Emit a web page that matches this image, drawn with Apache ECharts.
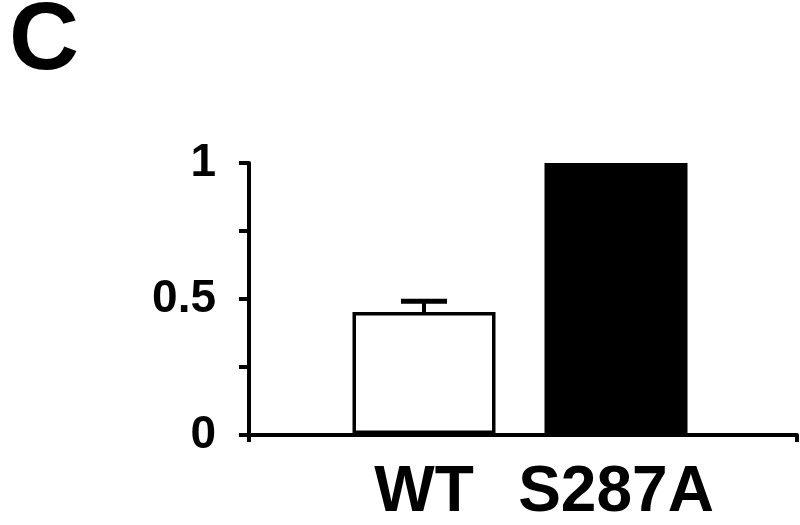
<!DOCTYPE html>
<html>
<head>
<meta charset="utf-8">
<script src="https://cdn.jsdelivr.net/npm/echarts@6/dist/echarts.min.js"></script>
<style>
  html, body { margin: 0; padding: 0; background: #fff; }
  #chart { width: 800px; height: 525px; }
</style>
</head>
<body>
<div id="chart"></div>
<script>
// data
var categories = ['WT', 'S287A'];
var values = [0.45, 1.0];
var errors = [0.04, 0];
var barColors = ['#ffffff', '#000000'];
var yTickLabels = { 0: '0', 0.5: '0.5', 1: '1' };

var font = 'Liberation Sans, Arial, Helvetica, sans-serif';

var option = {
  animation: false,
  backgroundColor: '#fff',
  title: {
    text: 'C',
    left: 4,
    top: -11,
    textStyle: { fontFamily: font, fontWeight: 'bold', fontSize: 97, color: '#000' }
  },
  grid: [
    // full axes frame
    { left: 249, right: 3, top: 163, bottom: 90 },
    // bars
    { left: 328, right: 88, top: 163, bottom: 90 }
  ],
  xAxis: [
    {
      gridIndex: 0,
      type: 'value',
      min: 0, max: 1, interval: 1,
      axisLine: { show: true, lineStyle: { color: '#000', width: 4 } },
      axisTick: { show: true, length: 7, lineStyle: { color: '#000', width: 4 } },
      axisLabel: { show: false },
      splitLine: { show: false }
    },
    {
      gridIndex: 1,
      type: 'category',
      data: categories,
      axisLine: { show: false },
      axisTick: { show: false },
      axisLabel: {
        interval: 0,
        margin: 27,
        color: '#000',
        fontFamily: font,
        fontWeight: 'bold',
        fontSize: 64
      }
    }
  ],
  yAxis: [
    {
      gridIndex: 0,
      type: 'value',
      min: 0, max: 1, interval: 0.25,
      axisLine: { show: true, lineStyle: { color: '#000', width: 4 } },
      axisTick: { show: true, length: 10, lineStyle: { color: '#000', width: 4 } },
      splitLine: { show: false },
      axisLabel: {
        margin: 33,
        color: '#000',
        fontFamily: font,
        fontWeight: 'bold',
        fontSize: 46,
        formatter: function (v) { return yTickLabels[v] !== undefined ? yTickLabels[v] : ''; }
      }
    },
    {
      gridIndex: 1,
      type: 'value',
      min: 0, max: 1,
      show: false
    }
  ],
  series: [
    {
      type: 'bar',
      xAxisIndex: 1,
      yAxisIndex: 1,
      barWidth: 143,
      data: values.map(function (v, i) {
        return {
          value: v,
          itemStyle: { color: barColors[i], borderColor: '#000', borderWidth: 3.5 }
        };
      }),
      z: 3
    },
    {
      type: 'custom',
      xAxisIndex: 1,
      yAxisIndex: 1,
      data: values.map(function (v, i) { return [i, v, v + errors[i]]; }),
      renderItem: function (params, api) {
        var i = api.value(0);
        if (errors[i] <= 0) return null;
        var base = api.coord([i, api.value(1)]);
        var top = api.coord([i, api.value(2)]);
        var half = 23;
        return {
          type: 'group',
          children: [
            { type: 'line', shape: { x1: base[0], y1: base[1], x2: top[0], y2: top[1] },
              style: { stroke: '#000', lineWidth: 4 } },
            { type: 'line', shape: { x1: top[0] - half, y1: top[1], x2: top[0] + half, y2: top[1] },
              style: { stroke: '#000', lineWidth: 5 } }
          ]
        };
      },
      z: 4
    }
  ]
};

var myChart = echarts.init(document.getElementById('chart'));
myChart.setOption(option);
</script>
</body>
</html>
